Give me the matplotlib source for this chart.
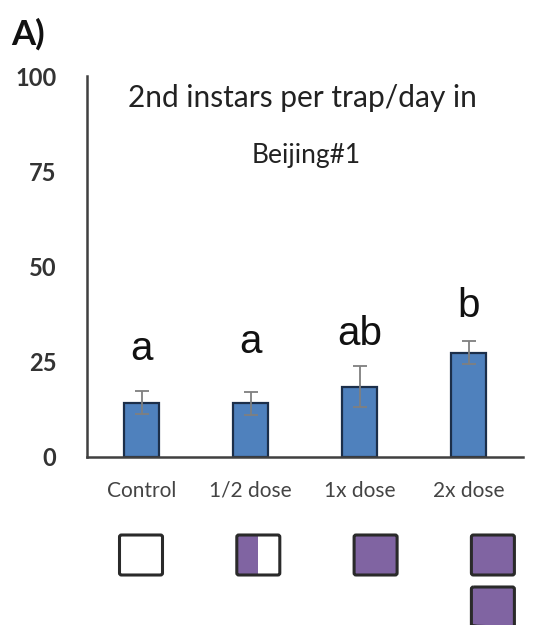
import matplotlib
matplotlib.use("Agg")
import matplotlib.pyplot as plt
from matplotlib.patches import FancyBboxPatch, Rectangle
import numpy as np

categories = ["Control", "1/2 dose", "1x dose", "2x dose"]
means = [14.2, 14.1, 18.5, 27.4]
errors = [3.0, 3.0, 5.3, 3.0]
letters = ["a", "a", "ab", "b"]
letter_y = [25.5, 27.3, 29.4, 36.7]
doses = [0.0, 0.5, 1.0, 2.0]
yticks = [0, 25, 50, 75, 100]

BLUE = "#4F81BD"
PURPLE = "#8064A2"
FONT = ["Lato", "DejaVu Sans"]

W, H = 539, 625
fig = plt.figure(figsize=(W / 100, H / 100), dpi=100)
ax = fig.add_axes([87 / W, 1 - 457 / H, (523 - 87) / W, (457 - 76) / H])

x = np.arange(len(categories))
ax.bar(x, means, width=0.32, color=BLUE, edgecolor="#1c2f4a", linewidth=1.6, zorder=2)
ax.errorbar(x, means, yerr=errors, fmt="none", ecolor="#7f7f7f", elinewidth=1.3,
            capsize=4.7, capthick=1.3, zorder=3)
for xi, lab, ly in zip(x, letters, letter_y):
    ax.text(xi, ly, lab, ha="center", va="baseline", fontsize=29,
            family=["Liberation Sans", "DejaVu Sans"], color="#111111")

ax.set_xlim(-0.5, 3.5)
ax.set_ylim(0, 100)
ax.set_yticks(yticks)
ax.set_yticklabels([str(t) for t in yticks], family=FONT, fontsize=17,
                   fontweight="bold", color="#333333")
ax.set_xticks(x)
ax.set_xticklabels(categories, family=FONT, fontsize=15, color="#444444")
ax.tick_params(axis="y", length=0, pad=22)
ax.tick_params(axis="x", length=0, pad=17)
for s in ["top", "right"]:
    ax.spines[s].set_visible(False)
ax.spines["left"].set_color("#404040")
ax.spines["left"].set_linewidth(1.8)
ax.spines["bottom"].set_color("#404040")
ax.spines["bottom"].set_linewidth(1.8)

fig.text(302 / W, 1 - 107 / H, "2nd instars per trap/day in", ha="center",
         va="baseline", fontsize=21.5, family=FONT, color="#222222")
fig.text(306 / W, 1 - 163 / H, "Beijing#1", ha="center", va="baseline",
         fontsize=19, family=FONT, color="#222222")
fig.text(11 / W, 1 - 45 / H, "A)", ha="left", va="baseline", fontsize=25,
         fontweight="bold", family=FONT, color="#111111")

# dose squares below the chart
bx = fig.add_axes([0, 0, 1, 1])
bx.set_xlim(0, W)
bx.set_ylim(H, 0)
bx.axis("off")
bw, bh = 43, 40
for i, d in enumerate(doses):
    cx = 141 + 117.3 * i
    n = max(1, int(np.ceil(d)))
    for k in range(n):
        top = 535 + k * 52
        frac = min(1.0, d - k) if d > 0 else 0.0
        if frac > 0:
            bx.add_patch(Rectangle((cx - bw / 2, top), bw * frac, bh,
                                   facecolor=PURPLE, edgecolor="none"))
        bx.add_patch(FancyBboxPatch((cx - bw / 2, top), bw, bh,
                                    boxstyle="round,pad=0,rounding_size=2",
                                    facecolor="none", edgecolor="#2a2a2a",
                                    linewidth=2.2))

fig.savefig("out.png", dpi=100)
